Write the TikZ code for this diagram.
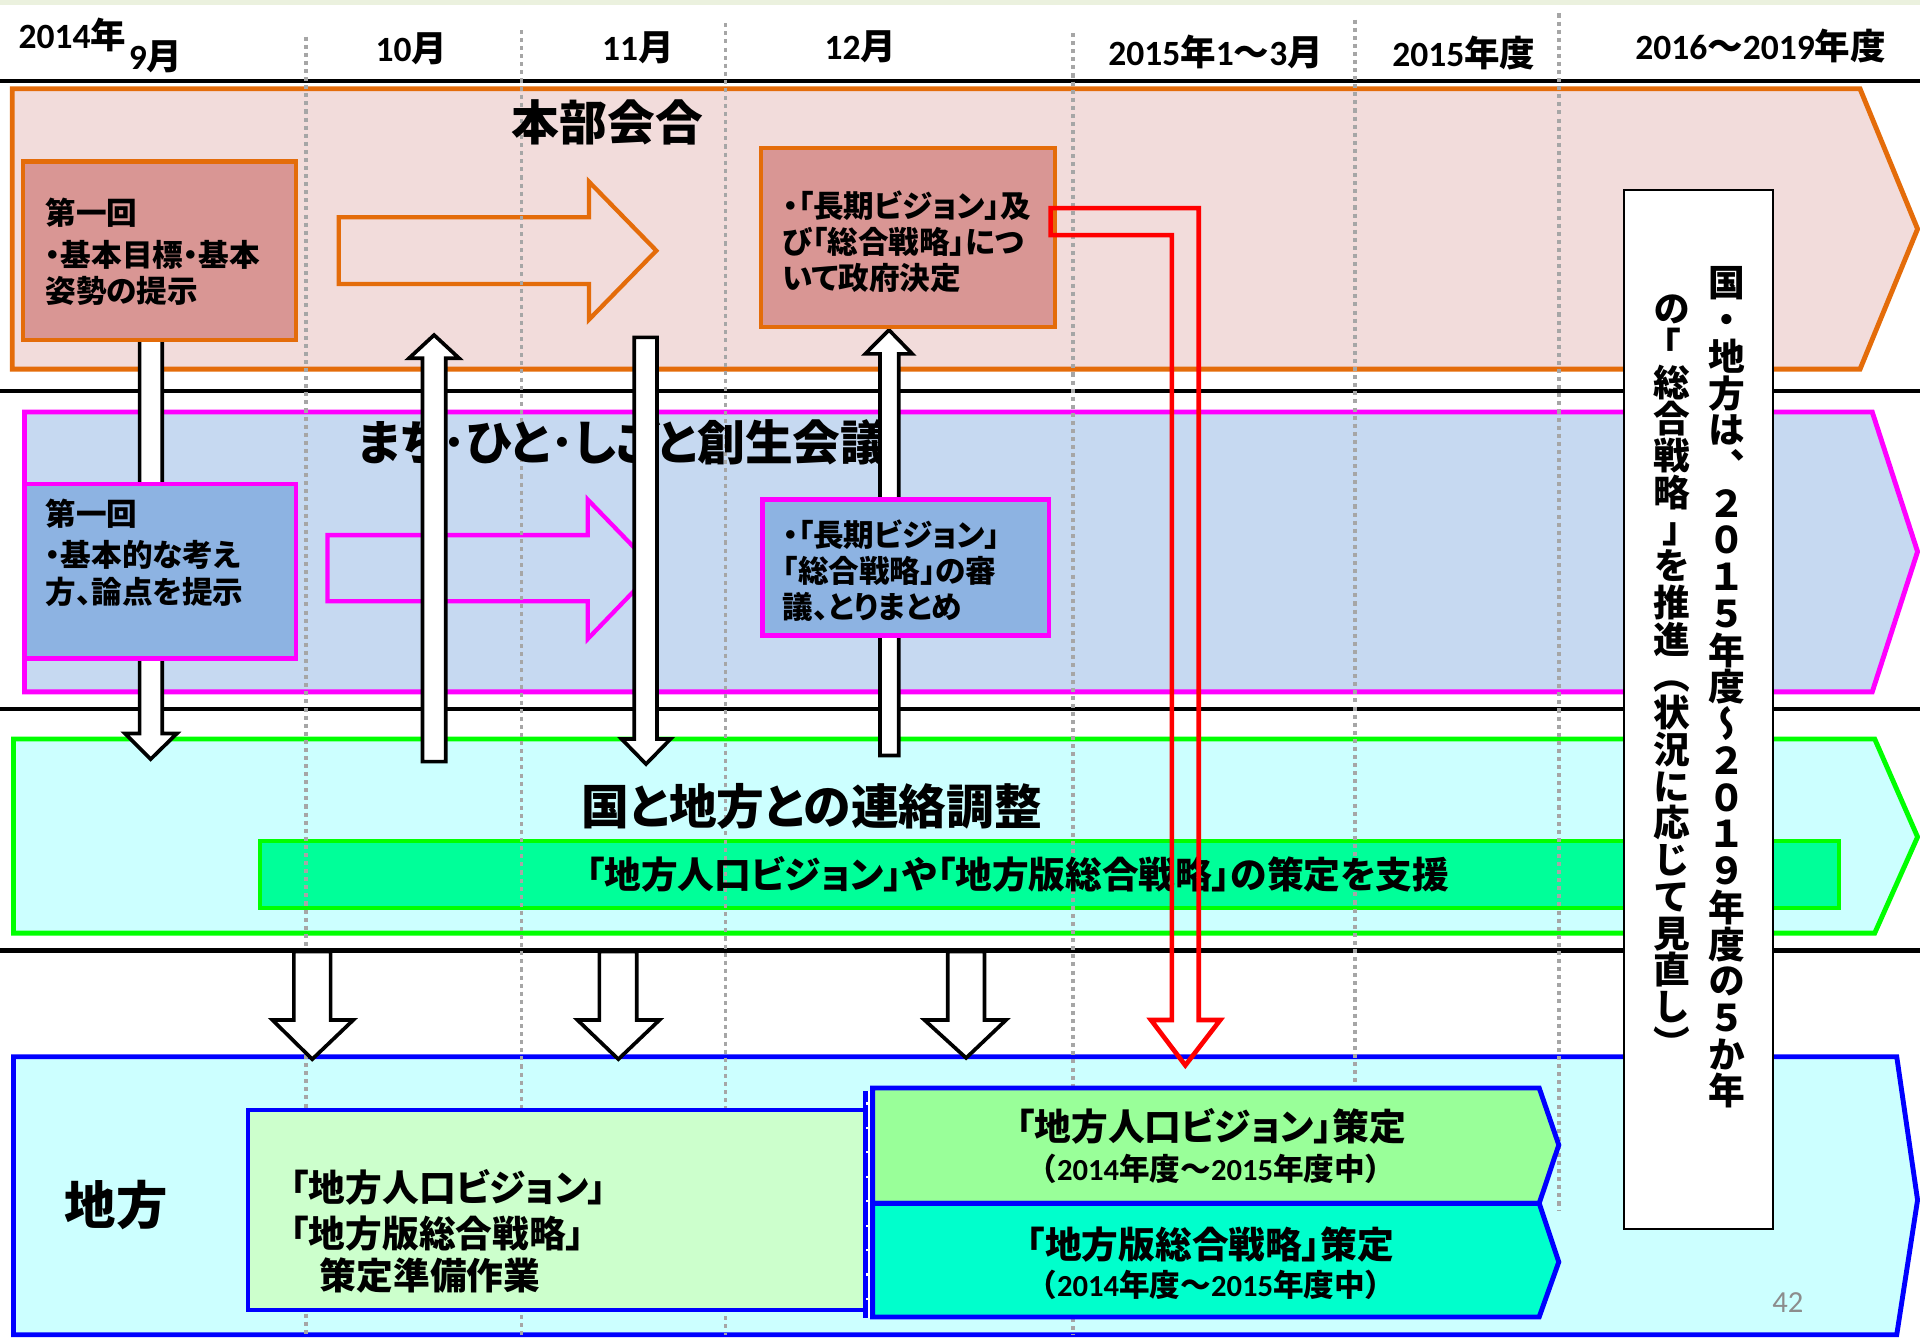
\documentclass[tikz,border=0pt]{standalone}
\usepackage{fontspec}
\setmainfont{Noto Sans CJK JP}[RawFeature=+palt]
\newfontfamily\jpfw{Noto Sans CJK JP}
\newfontfamily\jpv{Noto Sans CJK JP}[RawFeature=+vert]
\newfontfamily\lat{Carlito}
\newcommand\myfs[1]{\fontsize{#1}{#1}\selectfont}
\newcommand\dg[1]{{\lat #1}}
\definecolor{orng}{HTML}{E46C0A}
\definecolor{pinkbg}{HTML}{F2DCDB}
\definecolor{pinkbox}{HTML}{D99694}
\definecolor{mag}{HTML}{FF00FF}
\definecolor{bluebg}{HTML}{C6D9F1}
\definecolor{bluebox}{HTML}{8DB3E2}
\definecolor{grn}{HTML}{00FF00}
\definecolor{cyanbg}{HTML}{CCFFFF}
\definecolor{grnbar}{HTML}{00FF99}
\definecolor{blu}{HTML}{0000FF}
\definecolor{lgrn}{HTML}{CCFFCC}
\definecolor{pgrn}{HTML}{99FF99}
\definecolor{pcyan}{HTML}{00FFCC}
\definecolor{dashgray}{HTML}{A6A6A6}
\definecolor{topband}{HTML}{EBF1DE}
\definecolor{pgnum}{HTML}{8C8C8C}
\begin{document}
\begin{tikzpicture}[x=1pt,y=-1pt,
  tx/.style={inner sep=0pt, font=\bfseries\myfs{#1}, text height={0.88*#1pt}, text depth={0.12*#1pt}},
  vt/.style={inner sep=0pt, font=\jpv\bfseries\myfs{30}, text height=26.4pt, text depth=3.6pt},
  bandline/.style={line width=4pt, line join=miter, miter limit=20},
  boxline/.style={line width=3.5pt},
  blk/.style={draw=black, fill=white, line width=3pt, line join=miter, miter limit=20},
  hollow/.style={line width=3.5pt, line join=miter, miter limit=20},
  sep/.style={draw=black, line width=3.6pt},
  vgrid/.style={draw=dashgray, line width=3pt, dash pattern=on 3.3pt off 3.3pt},
  boxnode/.style={rectangle, anchor=north west, inner sep=0pt, outer sep=0pt},
]
\useasboundingbox (0,0) rectangle (1568,1092);
\fill[white] (0,0) rectangle (1568,1092);
\fill[topband] (0,0) rectangle (1568,4);

% separators
\draw[sep] (0,66.3) -- (1568,66.3);
\draw[sep] (0,319.4) -- (1568,319.4);
\draw[sep] (0,579) -- (1568,579);
\draw[sep] (0,776.3) -- (1568,776.3);

% bands
\draw[bandline, draw=orng, fill=pinkbg] (10,72.5) -- (1519,72.5) -- (1566,187) -- (1519,301.5) -- (10,301.5) -- cycle;
\draw[bandline, draw=mag, fill=bluebg] (20,336.5) -- (1529,336.5) -- (1566,450.5) -- (1529,565) -- (20,565) -- cycle;
\draw[bandline, draw=grn, fill=cyanbg] (11,603.5) -- (1531,603.5) -- (1566,683.5) -- (1531,762) -- (11,762) -- cycle;
\draw[bandline, draw=blu, fill=cyanbg] (11,863) -- (1549,863) -- (1566,980) -- (1549,1090) -- (11,1090) -- cycle;

% green bar
\draw[boxline, draw=grn, fill=grnbar] (212.5,687) rectangle (1502,741.5);

% hollow arrows
\draw[hollow, draw=orng] (276.6,177.5) -- (481,177.5) -- (481,148.4) -- (536,204.7) -- (481,261) -- (481,232) -- (276.6,232) -- cycle;
\draw[hollow, draw=mag] (267.5,437) -- (480,437) -- (480,408) -- (535,464.8) -- (480,521.8) -- (480,491) -- (267.5,491) -- cycle;

% dashed grid
\foreach \x/\ya/\yb in {250/30/1090, 426/24.5/1090, 592.6/19/1090, 876.5/27/1090, 1106.6/16/888, 1273/11/988}
  \draw[vgrid] (\x,\ya) -- (\x,\yb);

% titles
\node[tx=39] (t1) at (496,100) {本部会合};
\node[tx=39] (t2) at (509,361.4) {まち･ひと･しごと創生会議};
\node[tx=39] (t3) at (663,658.6) {国と地方との連絡調整};
\node[tx=30] (t3b) at (831,714) {「地方人口ビジョン」や「地方版総合戦略」の策定を支援};
\node[tx=42] (t4) at (95,984) {地方};

% black block arrows
\draw[blk] (114,271.7) -- (132.5,271.7) -- (132.5,599) -- (144.5,599) -- (123,620) -- (102,599) -- (114,599) -- cycle;
\draw[blk] (345,622) -- (364,622) -- (364,292.6) -- (375,292.6) -- (354.5,273.6) -- (334,292.6) -- (345,292.6) -- cycle;
\draw[blk] (518,275.5) -- (536.5,275.5) -- (536.5,603.5) -- (547.6,603.5) -- (527.6,624) -- (507.6,603.5) -- (518,603.5) -- cycle;
\draw[blk] (718.6,617) -- (734,617) -- (734,289) -- (745,289) -- (726,269.5) -- (706.6,289) -- (718.6,289) -- cycle;
\draw[blk] (240,777) -- (270,777) -- (270,833) -- (288.5,833) -- (255,865) -- (222.5,833) -- (240,833) -- cycle;
\draw[blk] (489.5,777) -- (520,777) -- (520,833) -- (538.6,833) -- (505,865) -- (471.6,833) -- (489.5,833) -- cycle;
\draw[blk] (774,777) -- (804,777) -- (804,833) -- (821.6,833) -- (789,864) -- (755,833) -- (774,833) -- cycle;

% inner boxes: honbu
\node[boxnode, draw=orng, boxline, fill=pinkbox, minimum width=222.5pt, minimum height=145.6pt] (hb1) at (19,132) {};
\node[tx=25, anchor=west] (hb1a) at (37,174) {第一回};
\node[tx=25, anchor=west] (hb1b) at (37,208) {・基本目標・基本};
\node[tx=25, anchor=west] (hb1c) at (37,237.5) {姿勢の提示};
\node[boxnode, draw=orng, boxline, fill=pinkbox, minimum width=240pt, minimum height=146pt] (hb2) at (621.6,121) {};
\node[tx=25, anchor=west] (hb2a) at (639,168) {・「長期ビジョン」及};
\node[tx=25, anchor=west] (hb2b) at (639,197.5) {び「総合戦略」につ};
\node[tx=25, anchor=west] (hb2c) at (639,227) {いて政府決定};

% inner boxes: machi
\node[boxnode, draw=mag, boxline, fill=bluebox, minimum width=221.5pt, minimum height=142.8pt] (mb1) at (20,395) {};
\node[tx=25, anchor=west] (mb1a) at (37,419.5) {第一回};
\node[tx=25, anchor=west] (mb1b) at (37,453) {・基本的な考え};
\node[tx=25, anchor=west] (mb1c) at (37,483) {方、論点を提示};
\node[boxnode, draw=mag, boxline, fill=bluebox, minimum width=234pt, minimum height=111pt] (mb2) at (622.6,408) {};
\node[tx=25, anchor=west] (mb2a) at (639,436.7) {・「長期ビジョン」};
\node[tx=25, anchor=west] (mb2b) at (639,466.3) {「総合戦略」の審};
\node[tx=25, anchor=west] (mb2c) at (639,495.5) {議、とりまとめ};

% chiho boxes
\node[boxnode, draw=blu, boxline, fill=lgrn, minimum width=504pt, minimum height=163.5pt] (cb1) at (202.5,906.5) {};
\node[tx=30, anchor=west] (cb1a) at (237,970) {「地方人口ビジョン」};
\node[tx=30, anchor=west] (cb1b) at (237,1007) {「地方版総合戦略」};
\node[tx=30, anchor=west] (cb1c) at (261,1042) {策定準備作業};
\draw[blu, line width=4pt] (706.5,891) -- (706.5,1076.5);
\draw[white, line width=1.4pt, dash pattern=on 2pt off 18pt] (708,900) -- (708,1076);
\draw[white, line width=1.5pt] (710,891) -- (710,1076);
\draw[line width=4pt, line join=miter, miter limit=20, draw=blu, fill=pgrn] (712.6,888.5) -- (1257,888.5) -- (1273,935) -- (1257,982.7) -- (712.6,982.7) -- cycle;
\draw[line width=4pt, line join=miter, miter limit=20, draw=blu, fill=pcyan] (712.6,982.7) -- (1257,982.7) -- (1273,1030.6) -- (1257,1075.5) -- (712.6,1075.5) -- cycle;
\node[tx=30] (p1a) at (989,920) {「地方人口ビジョン」策定};
\node[tx=25] (p1b) at (989,954.8) {{\jpfw （}\dg{2014}年度～\dg{2015}年度中{\jpfw ）}};
\node[tx=30] (p2a) at (988.5,1016) {「地方版総合戦略」策定};
\node[tx=25] (p2b) at (989,1049.5) {{\jpfw （}\dg{2014}年度～\dg{2015}年度中{\jpfw ）}};

% vertical text box
\node[boxnode, draw=black, line width=1.5pt, fill=white, minimum width=122pt, minimum height=848.4pt] (vbox) at (1326,155) {};
\foreach \c [count=\i from 0] in {国,・,地,方,は,、,２,０,１,５,年,度,～,２,０,１,９,年,度,の,５,か,年}
  \node[vt] (vr\i) at (1410,231+30*\i) {\c};
\foreach \c [count=\i from 0] in {の,{\rmfamily 「},総,合,戦,略,{\rmfamily 」},を,推,進,（,状,況,に,応,じ,て,見,直,し,）}
  \node[vt] (vl\i) at (1365.3,252+30*\i) {\c};

% red arrow
\draw[draw=red, line width=3.8pt, line join=miter, miter limit=20] (858,170) -- (979,170) -- (979,833) -- (996.5,833) -- (968,870) -- (940,833) -- (957,833) -- (957,192) -- (858,192) -- cycle;

% headers
\node[tx=29, anchor=west] (h1) at (15,28.5) {\dg{2014}年};
\node[tx=29, anchor=west] (h1b) at (105,45.6) {\dg{9}月};
\node[tx=29] (h2) at (336,38.8) {\dg{10}月};
\node[tx=29] (h3) at (521,38.5) {\dg{11}月};
\node[tx=29] (h4) at (702.7,37.5) {\dg{12}月};
\node[tx=29] (h5) at (992.7,42.2) {\dg{2015}年\dg{1}～\dg{3}月};
\node[tx=29] (h6) at (1195.4,43.6) {\dg{2015}年度};
\node[tx=29] (h7) at (1437.9,37.9) {\dg{2016}～\dg{2019}年度};

\node[inner sep=0pt, font=\lat\myfs{25}, text=pgnum] (pg) at (1460,1064) {42};
\end{tikzpicture}
\end{document}
